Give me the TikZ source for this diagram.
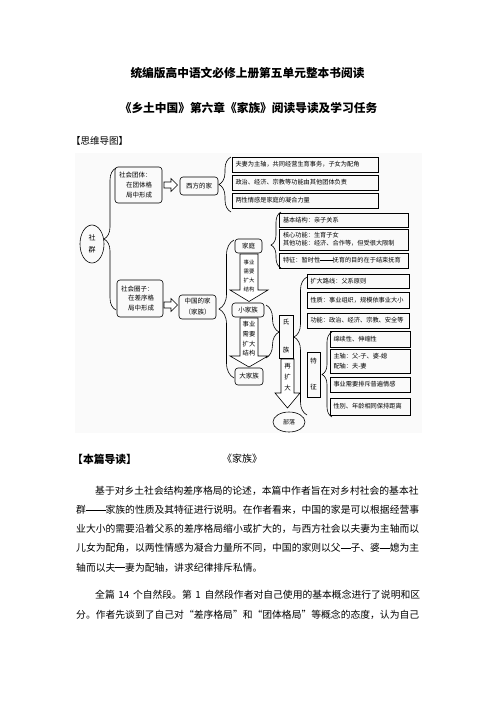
\documentclass[tikz,border=0pt]{standalone}
\usepackage{fontspec}
\setmainfont{Noto Sans CJK SC}
\usetikzlibrary{decorations.pathreplacing,shapes.geometric,calc}
\XeTeXlinebreaklocale "zh"
\XeTeXlinebreakskip=0pt plus 4pt
\newcommand{\fsz}[2]{\fontsize{#1}{#2}\selectfont}
\newcommand{\dsh}[1]{\rule[0.36em]{#1em}{0.06em}}
\tikzset{
  every node/.style={inner sep=0pt},
  tbox/.style={draw, line width=0.65pt, inner xsep=3.5pt, inner ysep=0pt, align=left, font=\fsz{6.2}{8}},
  rbox/.style={draw, line width=0.6pt, rounded corners=3pt, align=center, font=\fsz{6.5}{9.7}},
  sbox/.style={draw, line width=0.6pt, align=center, font=\fsz{6.5}{8}},
  ell/.style={draw, ellipse, line width=0.6pt, align=center},
  brc/.style={decorate, decoration={brace, amplitude=#1}, line width=0.6pt},
  blk/.style={draw, line width=0.6pt, fill=white, line join=miter},
  bodyline/.style={anchor=west, font=\fsz{9.8}{12}},
}
\begin{document}
\begin{tikzpicture}[x=1pt,y=-1pt]
\useasboundingbox (0,0) rectangle (496,702);
\fill[white] (0,0) rectangle (496,702);

% titles
\node[font=\bfseries\fsz{11.7}{14}] (t1) at (247.5,73) {统编版高中语文必修上册第五单元整本书阅读};
\node[font=\bfseries\fsz{11.7}{14}] (t2) at (248.5,108) {《乡土中国》第六章《家族》阅读导读及学习任务};
\node[anchor=west, font=\fsz{9.5}{12}] (t3) at (71,141) {【思维导图】};

% diagram background
\fill[black!2] (75,153) rectangle (422,433);

% left part
\node[ell, minimum width=24, minimum height=38, font=\fsz{7}{12}] (shequn) at (92,244) {社\\群};
\node[rbox, minimum width=47, minimum height=36, text width=39, align=left, inner xsep=4pt] (tuanti) at (138.5,185) {社会团体：\\\hspace*{7pt}在团体格\\\hspace*{7pt}局中形成};
\node[rbox, minimum width=46, minimum height=37, text width=38, align=left, inner xsep=4pt] (quanzi) at (140,298.5) {社会圈子：\\\hspace*{7pt}在差序格\\\hspace*{7pt}局中形成};
\node[rbox, minimum width=38, minimum height=18] (xifang) at (199,186) {西方的家};
\node[rbox, minimum width=37, minimum height=24, font=\fsz{6.5}{11}] (zhongguo) at (197.5,307) {中国的家\\（家族）};

% hollow horizontal arrows
\draw[blk] (164,182) -- (171,182) -- (171,178.5) -- (177.5,185) -- (171,191.5) -- (171,188) -- (164,188) -- cycle;
\draw[blk] (164,302) -- (171,302) -- (171,298.5) -- (177.5,305) -- (171,311.5) -- (171,308) -- (164,308) -- cycle;

% braces (left)
\draw[brc=12] (116,310) -- (116,168);
\draw[brc=12] (231,212) -- (231,157);

% western family boxes
\node[tbox, minimum width=146, text width=139, minimum height=15] (b1) at (305,164.5) {夫妻为主轴，共同经营生育事务，子女为配角};
\node[tbox, minimum width=146, text width=139, minimum height=15] (b2) at (305,182.5) {政治、经济、宗教等功能由其他团体负责};
\node[tbox, minimum width=146, text width=139, minimum height=15] (b3) at (305,200.5) {两性情感是家庭的凝合力量};

% chinese family chain
\node[rbox, minimum width=27, minimum height=14] (jiating) at (248.5,246) {家庭};
\node[rbox, minimum width=32, minimum height=14] (xjz) at (248,310) {小家族};
\node[rbox, minimum width=28, minimum height=17] (djz) at (249,376.5) {大家族};
\draw[brc=15, decoration={aspect=0.5}] (234,378) -- (234,240);

\draw[blk] (240,254) -- (258,254) -- (258,290) -- (268,290) -- (249,301.5) -- (230,290) -- (240,290) -- cycle;
\node[font=\fsz{5.4}{9}, align=center] (a1t) at (249,276) {事业\\需要\\扩大\\结构};
\draw[blk] (240,318) -- (258,318) -- (258,356) -- (268,356) -- (249,367) -- (230,356) -- (240,356) -- cycle;
\node[font=\fsz{6.3}{9.7}, align=center] (a2t) at (249,339) {事业\\需要\\扩大\\结构};

% family detail boxes
\draw[brc=10, decoration={aspect=0.41}] (281,268) -- (281,212);
\node[tbox, minimum width=128, text width=122, minimum height=14] (c1) at (344,220) {基本结构：亲子关系};
\node[tbox, minimum width=128, text width=122, minimum height=21] (c2) at (344,239.5) {核心功能：生育子女\\其他功能：经济、合作等，但受很大限制};
\node[tbox, minimum width=128, text width=122, minimum height=15] (c3) at (344,260.5) {特征：暂时性\dsh{2}抚育的目的在于结束抚育};

% clan
\draw[brc=13, decoration={aspect=0.51}] (266,305) -- (266,358);
\node[sbox, minimum width=14, minimum height=43] (shizu) at (286,336.5) {氏\\[20pt]族};
\draw[blk] (281,359) -- (294,359) -- (294,393) -- (300,393) -- (287.5,408) -- (275,393) -- (281,393) -- cycle;
\node[font=\fsz{6.5}{11}, align=center] (zkd) at (287.5,377) {再\\扩\\大};
\node[ell, minimum width=32, minimum height=20, font=\fsz{6}{8}] (buluo) at (289,422) {部落};

\draw[brc=13, decoration={aspect=0.565}] (307,415) -- (307,277);
\node[tbox, minimum width=102, text width=95, minimum height=14] (d1) at (358,281) {扩大路线：父系原则};
\node[tbox, minimum width=102, text width=95, minimum height=16] (d2) at (358,300) {性质：事业组织，规模依事业大小};
\node[tbox, minimum width=102, text width=95, minimum height=15] (d3) at (358,320.5) {功能：政治、经济、宗教、安全等};

\node[sbox, minimum width=13, minimum height=45, font=\fsz{6.5}{8}] (tezheng) at (313.5,374.5) {特\\[18pt]征};
\draw[brc=10] (332,417) -- (332,332);
\node[tbox, minimum width=80, text width=73, minimum height=16] (e1) at (370,339) {绵续性、伸缩性};
\node[tbox, minimum width=80, text width=73, minimum height=24, font=\fsz{6.2}{10}] (e2) at (370,361) {主轴：父-子、婆-媳\\配轴：夫-妻};
\node[tbox, minimum width=80, text width=73, minimum height=15] (e3) at (370,384.5) {事业需要排斥普遍情感};
\node[tbox, minimum width=80, text width=73, minimum height=17] (e4) at (370,406.5) {性别、年龄相同保持距离};

% reading guide
\node[anchor=west, font=\bfseries\fsz{10.8}{13}] (daodu) at (72,459) {【本篇导读】};
\node[anchor=west, font=\fsz{10}{12}] (jiazu) at (222,459) {《家族》};

\node[bodyline] (l1) at (95,491) {\makebox[325pt][s]{基于对乡土社会结构差序格局的论述，本篇中作者旨在对乡村社会的基本社}};
\node[bodyline] (l2) at (76,510) {\makebox[344pt][s]{群\dsh{2}家族的性质及其特征进行说明。在作者看来，中国的家是可以根据经营事}};
\node[bodyline] (l3) at (76,529) {\makebox[344pt][s]{业大小的需要沿着父系的差序格局缩小或扩大的，与西方社会以夫妻为主轴而以}};
\node[bodyline] (l4) at (76,548) {\makebox[344pt][s]{儿女为配角，以两性情感为凝合力量所不同，中国的家则以父\dsh{1}子、婆\dsh{1}媳为主}};
\node[bodyline] (l5) at (76,568) {轴而以夫\dsh{1}妻为配轴，讲求纪律排斥私情。};
\node[bodyline] (l6) at (95,595) {\makebox[325pt][s]{全篇 14 个自然段。第 1 自然段作者对自己使用的基本概念进行了说明和区}};
\node[bodyline] (l7) at (76,615) {\makebox[344pt][s]{分。作者先谈到了自己对“差序格局”和“团体格局”等概念的态度，认为自己}};
\end{tikzpicture}
\end{document}
